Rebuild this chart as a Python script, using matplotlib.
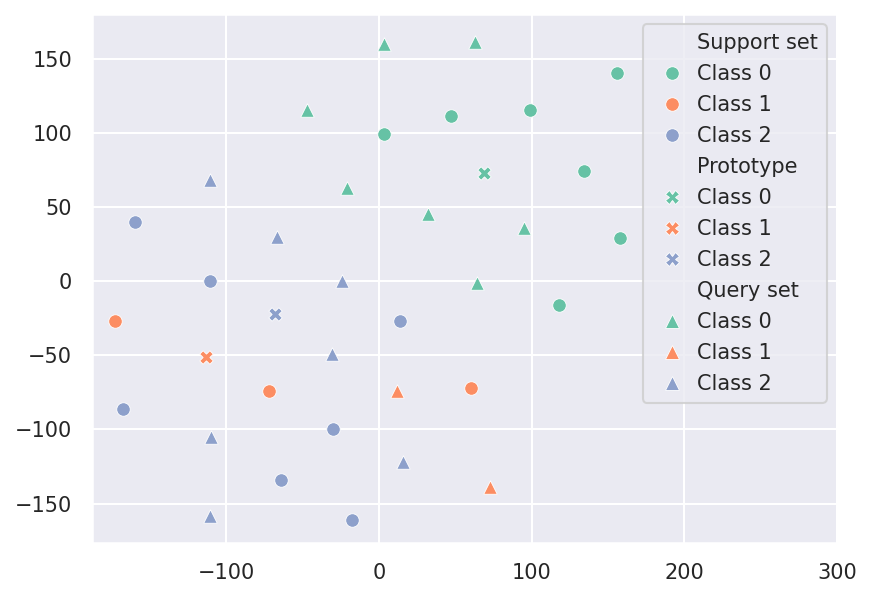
import matplotlib
matplotlib.use("Agg")
import matplotlib.pyplot as plt
from matplotlib.lines import Line2D
import seaborn as sns

# support set points per class (x, y)
support_x = {
    0: [156, 99, 47, 3, 134, 158, 118],
    1: [-173, -72, 60],
    2: [-160, -111, 14, -168, -30, -64, -18],
}
support_y = {
    0: [140, 115, 111, 99, 74, 29, -16],
    1: [-27, -74, -72],
    2: [40, 0, -27, -86, -100, -134, -161],
}

# prototypes per class
proto_x = [69, -113, -68]
proto_y = [73, -51, -22]

# query set points per class
query_x = {
    0: [3, 63, -47, -21, 32, 95, 64],
    1: [12, 73],
    2: [-111, -67, -24, -31, -110, 16, -111],
}
query_y = {
    0: [160, 161, 115, 63, 45, 36, -1],
    1: [-74, -139],
    2: [68, 30, 0, -49, -105, -122, -158],
}

class_names = ["Class 0", "Class 1", "Class 2"]

sns.set_theme(style="darkgrid")
colors = sns.color_palette("Set2", 3)

fig = plt.figure(figsize=(872 / 150, 597 / 150), dpi=150)
ax = fig.add_axes([92 / 872, 1 - 543 / 597, (837 - 92) / 872, (543 - 14) / 597])

kw = dict(s=42, edgecolor="white", linewidth=0.4, zorder=3)
for c in range(3):
    ax.scatter(support_x[c], support_y[c], marker="o", color=colors[c], **kw)
    ax.scatter([proto_x[c]], [proto_y[c]], marker="X", color=colors[c], **kw)
    ax.scatter(query_x[c], query_y[c], marker="^", color=colors[c], **kw)

ax.set_xlim(-188, 300)
ax.set_ylim(-176.5, 180)
ax.tick_params(labelsize=10)

# legend: grouped sections with a title row each
handles, labels = [], []
blank = Line2D([], [], linestyle="", marker="")
for title, mk in [("Support set", "o"), ("Prototype", "X"), ("Query set", "^")]:
    handles.append(blank)
    labels.append(title)
    for c in range(3):
        handles.append(Line2D([], [], linestyle="", marker=mk, color=colors[c],
                              markersize=6.5, markeredgecolor="white",
                              markeredgewidth=0.4))
        labels.append(class_names[c])
ax.legend(handles, labels, loc="upper right", fontsize=10,
          handletextpad=0.2, labelspacing=0.53)

fig.savefig("out.png", dpi=150)
